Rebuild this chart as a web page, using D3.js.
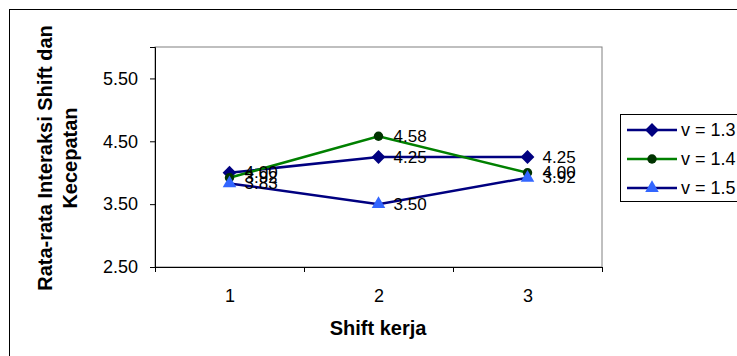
<html>
<head>
<style>
    body { margin: 0; background: #fff; }
    text { font-family: Arial, "Liberation Sans", sans-serif; fill: #000; }
</style>
</head>
<body>
<svg id="chart" width="737" height="356"></svg>
<script src="https://d3js.org/d3.v7.min.js"></script>
<script>
    // data
    let shifts = [1, 2, 3]
    let seriesNames = ["v = 1.3", "v = 1.4", "v = 1.5"]
    let v13 = [4.00, 4.25, 4.25]
    let v14 = [3.92, 4.58, 4.00]
    let v15 = [3.83, 3.50, 3.92]
    let yTicks = [2.5, 3.5, 4.5, 5.5]

    // diamond = square turned 45 degrees
    let series = [
        { name: seriesNames[0], values: v13, line: "#000080", fill: "#000080", shape: d3.symbolSquare, size: 95, rot: 45 },
        { name: seriesNames[1], values: v14, line: "#008000", fill: "#003300", shape: d3.symbolCircle, size: 70, rot: 0 },
        { name: seriesNames[2], values: v15, line: "#000080", fill: "#3366ff", shape: d3.symbolTriangle, size: 80, rot: 0 }
    ]

    let svg = d3.select("#chart")
    let plotLeft = 155, plotRight = 602, plotTop = 47, plotBottom = 267

    // outer chart border (cut off at right/bottom like the original)
    svg.append("rect")
        .attr("x", 9.5).attr("y", 9.5)
        .attr("width", 900).attr("height", 500)
        .attr("fill", "none").attr("stroke", "#000")

    let x = d3.scaleLinear().domain([0.5, 3.5]).range([plotLeft, plotRight])
    let y = d3.scaleLinear().domain([2.5, 6.0]).range([plotBottom, plotTop])

    // plot area
    svg.append("rect")
        .attr("x", plotLeft).attr("y", plotTop)
        .attr("width", plotRight - plotLeft).attr("height", plotBottom - plotTop)
        .attr("fill", "#fff").attr("stroke", "#808080")

    let yAxis = svg.append("g")
        .attr("transform", "translate(" + plotLeft + ",0)")
        .call(d3.axisLeft(y).tickValues(yTicks).tickFormat(d3.format(".2f")).tickSize(5).tickPadding(12))
    yAxis.selectAll("text").style("font-size", "18px").style("font-family", "Arial, 'Liberation Sans', sans-serif")
    yAxis.selectAll("line, path").attr("stroke", "#000")

    let xAxis = svg.append("g")
        .attr("transform", "translate(0," + plotBottom + ")")
        .call(d3.axisBottom(x).tickValues([0.5, 1.5, 2.5, 3.5]).tickFormat("").tickSize(5))
    xAxis.selectAll("line, path").attr("stroke", "#000")

    let xLabels = svg.append("g")
        .attr("transform", "translate(0," + plotBottom + ")")
        .call(d3.axisBottom(x).tickValues(shifts).tickFormat(d3.format("d")).tickSize(0).tickPadding(22))
    xLabels.select(".domain").remove()
    xLabels.selectAll("text").style("font-size", "18px").style("font-family", "Arial, 'Liberation Sans', sans-serif")

    // axis titles
    svg.append("text")
        .attr("x", 378).attr("y", 335)
        .attr("text-anchor", "middle")
        .style("font-size", "20px").style("font-weight", "bold")
        .text("Shift kerja")

    let yTitle = svg.append("text")
        .attr("transform", "translate(0,158) rotate(-90)")
        .attr("text-anchor", "middle")
        .style("font-size", "20px").style("font-weight", "bold")
    yTitle.append("tspan").attr("x", 0).attr("y", 52).text("Rata-rata Interaksi Shift dan")
    yTitle.append("tspan").attr("x", 0).attr("y", 77).text("Kecepatan")

    let valueLine = d3.line()
        .x((d, i) => x(shifts[i]))
        .y(d => y(d))

    series.forEach(s => {
        svg.append("path")
            .datum(s.values)
            .attr("d", valueLine)
            .attr("fill", "none")
            .attr("stroke", s.line)
            .attr("stroke-width", 2.5)
    })

    series.forEach(s => {
        svg.selectAll(null)
            .data(s.values)
            .join("path")
            .attr("transform", (d, i) => "translate(" + x(shifts[i]) + "," + y(d) + ") rotate(" + s.rot + ")")
            .attr("d", d3.symbol().type(s.shape).size(s.size))
            .attr("fill", s.fill)
    })

    series.forEach(s => {
        svg.selectAll(null)
            .data(s.values)
            .join("text")
            .attr("x", (d, i) => x(shifts[i]) + 15)
            .attr("y", d => y(d))
            .attr("dominant-baseline", "central")
            .style("font-size", "17px")
            .text(d => d3.format(".2f")(d))
    })

    // legend
    let legend = svg.append("g")
    legend.append("rect")
        .attr("x", 620.5).attr("y", 114.5)
        .attr("width", 200).attr("height", 87)
        .attr("fill", "#fff").attr("stroke", "#000")
    let rows = legend.selectAll("g.row")
        .data(series)
        .join("g")
        .attr("class", "row")
        .attr("transform", (d, i) => "translate(0," + (130 + i * 29) + ")")
    rows.append("line")
        .attr("x1", 627).attr("x2", 677)
        .attr("stroke", d => d.line).attr("stroke-width", 2.5)
    rows.append("path")
        .attr("transform", d => "translate(652,0) rotate(" + d.rot + ")")
        .attr("d", d => d3.symbol().type(d.shape).size(d.size)())
        .attr("fill", d => d.fill)
    rows.append("text")
        .attr("x", 681)
        .attr("dominant-baseline", "central")
        .style("font-size", "18px")
        .text(d => d.name)
</script>
</body>
</html>
